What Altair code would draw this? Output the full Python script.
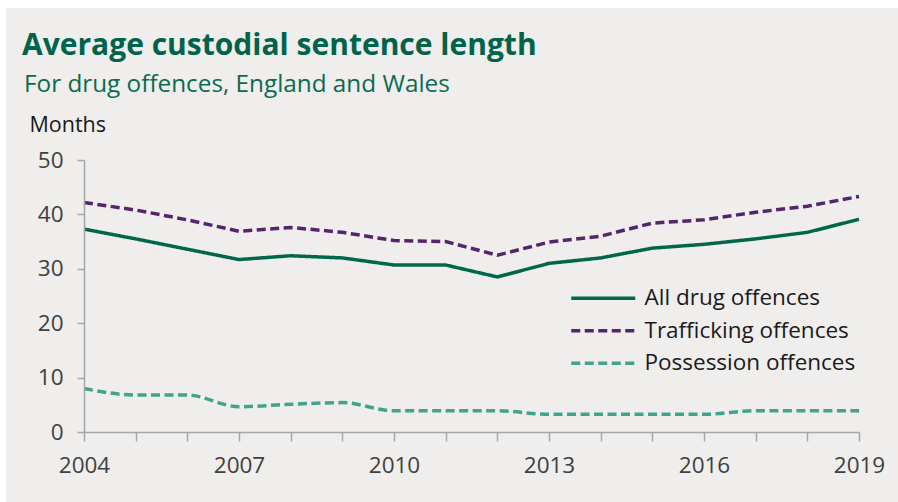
import altair as alt
import pandas as pd

# Average custodial sentence length (months) for drug offences, England and Wales
years = list(range(2004, 2020))
all_drug = [37.3, 35.5, 33.6, 31.7, 32.4, 32.0, 30.7, 30.7, 28.5, 31.0, 32.0, 33.8, 34.5, 35.5, 36.7, 39.1]
trafficking = [42.2, 40.8, 39.0, 36.9, 37.6, 36.7, 35.2, 35.0, 32.5, 34.9, 36.0, 38.4, 39.0, 40.4, 41.5, 43.3]
possession = [8.0, 6.8, 6.8, 4.65, 5.1, 5.4, 3.9, 3.9, 3.9, 3.25, 3.25, 3.25, 3.25, 3.9, 3.9, 3.9]

series_names = ["All drug offences", "Trafficking offences", "Possession offences"]
series_colors = ["#00674B", "#55246C", "#40A38B"]
series_dashes = [[1, 0], [9, 4.5], [9, 4.5]]

title_text = "Average custodial sentence length"
subtitle_text = "For drug offences, England and Wales"

rows = []
for name, vals in zip(series_names, [all_drug, trafficking, possession]):
    for y, v in zip(years, vals):
        rows.append({"year": y, "months": v, "series": name})
df = pd.DataFrame(rows)

W, H = 775, 272
FONT = "Open Sans"
GREEN = "#00634A"
AXIS_GREY = "#A6A6A6"

# A long flat legend swatch: the path spans 8 units of a 16px symbol, i.e. 64px wide
color_enc = alt.Color(
    "series:N",
    scale=alt.Scale(domain=series_names, range=series_colors),
    sort=series_names,
    legend=alt.Legend(
        title=None,
        orient="none",
        legendX=508,
        legendY=127,
        symbolType="M-4,0L4,0",
        symbolSize=256,
        symbolStrokeWidth=3.5,
        labelFont=FONT,
        labelFontSize=22.5,
        labelColor="#1A1A1A",
        labelOffset=30,
        labelLimit=400,
        rowPadding=9.5,
        zindex=2,
    ),
)
dash_enc = alt.StrokeDash(
    "series:N",
    scale=alt.Scale(domain=series_names, range=series_dashes),
    sort=series_names,
    legend=None,
)

x_enc = alt.X(
    "year:Q",
    scale=alt.Scale(domain=[2004, 2019], nice=False, zero=False),
    axis=alt.Axis(
        title=None,
        values=years,
        format="d",
        labelExpr="(datum.value - 2004) % 3 == 0 ? datum.label : ''",
        labelFlush=False,
        grid=False,
        tickSize=9,
        labelPadding=13,
        labelFont=FONT,
        labelFontSize=22.5,
        labelColor="#404040",
        domainColor=AXIS_GREY,
        tickColor=AXIS_GREY,
        domainWidth=1.5,
        tickWidth=1.5,
        zindex=1,
    ),
)
y_enc = alt.Y(
    "months:Q",
    scale=alt.Scale(domain=[0, 50], nice=False),
    axis=alt.Axis(
        title="Months",
        titleAngle=0,
        titleAlign="left",
        titleBaseline="alphabetic",
        titleX=-55,
        titleY=-29,
        titleFont=FONT,
        titleFontSize=21.5,
        titleFontWeight="normal",
        titleColor="#1A1A1A",
        values=[0, 10, 20, 30, 40, 50],
        grid=False,
        tickSize=7,
        labelPadding=14,
        labelFont=FONT,
        labelFontSize=22.5,
        labelColor="#404040",
        domainColor=AXIS_GREY,
        tickColor=AXIS_GREY,
        domainWidth=1.5,
        tickWidth=1.5,
        zindex=1,
    ),
)

one = alt.Data(values=[{}])

panel = alt.Chart(one).mark_rect(color="#EFEEEC").encode(
    x=alt.value(-78), x2=alt.value(W + 39), y=alt.value(-152), y2=alt.value(H + 70)
)

title = alt.Chart(one).mark_text(
    align="left", baseline="alphabetic", font=FONT, fontSize=30, fontWeight="bold", color=GREEN
).encode(x=alt.value(-62), y=alt.value(-105), text=alt.value(title_text))

subtitle = alt.Chart(one).mark_text(
    align="left", baseline="alphabetic", font=FONT, fontSize=24.3, color="#0A6B4F"
).encode(x=alt.value(-60), y=alt.value(-68), text=alt.value(subtitle_text))

base = alt.Chart(df).encode(x=x_enc, y=y_enc, color=color_enc, strokeDash=dash_enc)

straight = base.transform_filter(
    alt.FieldOneOfPredicate(field="series", oneOf=series_names[:2])
).mark_line(strokeWidth=3.5, interpolate="linear")

smooth = base.transform_filter(
    alt.FieldEqualPredicate(field="series", equal=series_names[2])
).mark_line(strokeWidth=3.5, interpolate="monotone")

chart = (
    alt.layer(panel, title, subtitle, straight, smooth)
    .properties(
        width=W,
        height=H,
        autosize=alt.AutoSizeParams(type="none"),
        padding={"left": 84, "top": 160, "right": 39, "bottom": 70},
    )
    .configure(background="white")
    .configure_view(stroke=None)
)

chart.save("out.html", embed_options={"renderer": "svg", "actions": False})
